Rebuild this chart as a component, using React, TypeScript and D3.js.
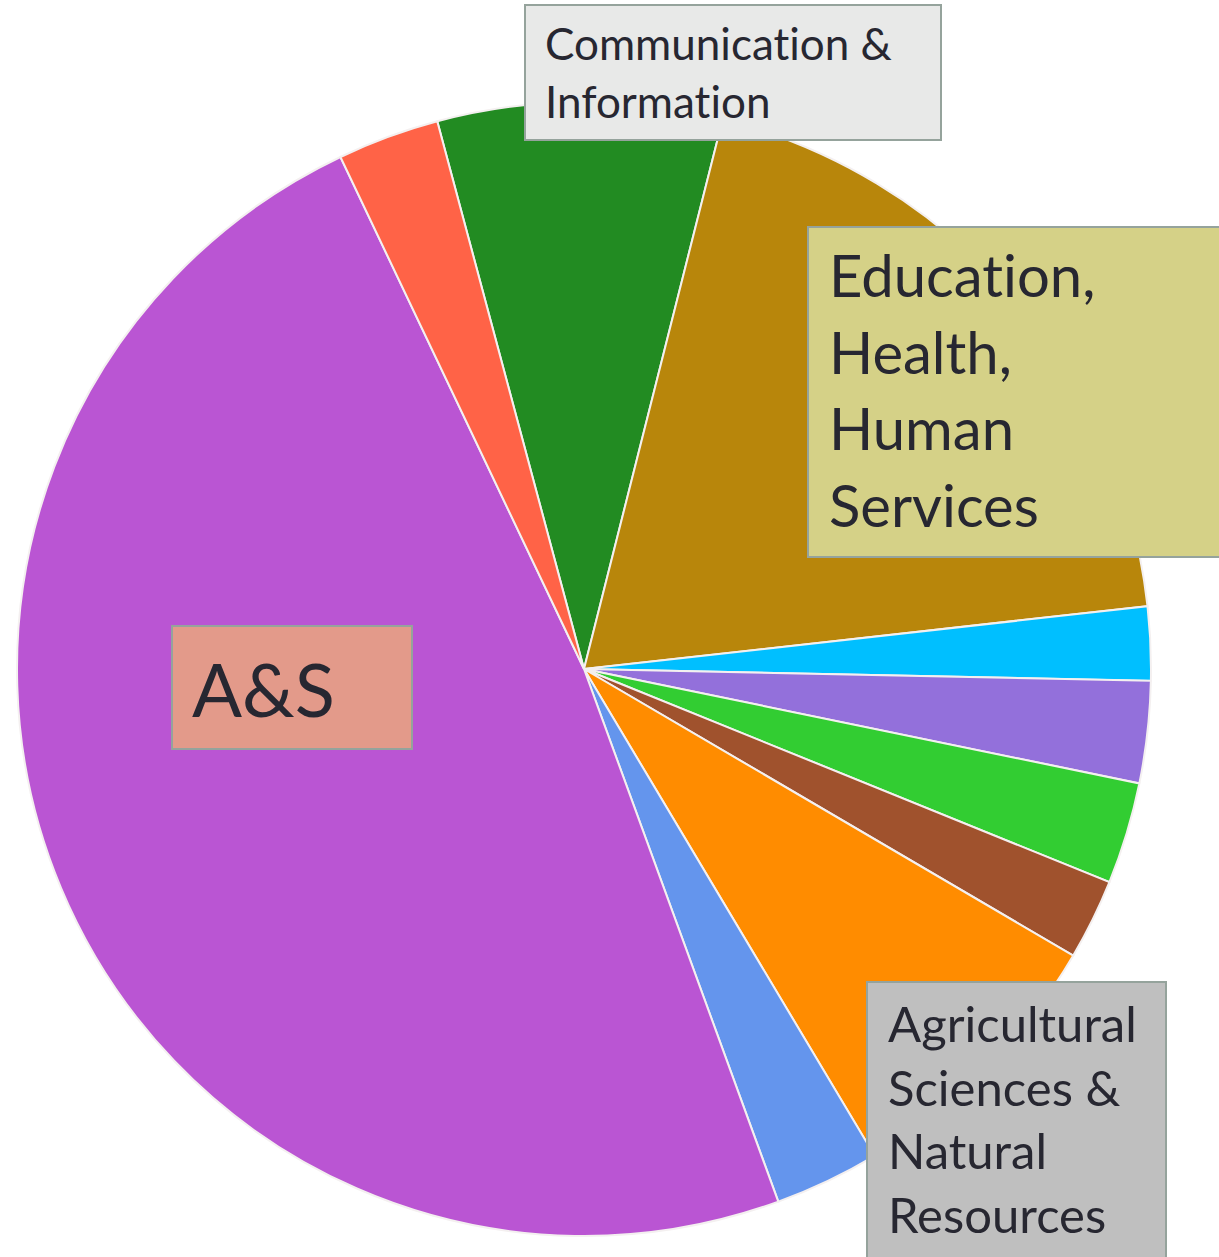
import React, { useEffect, useRef } from "react";
import * as d3 from "d3";

// slice order, clockwise starting just left of 12 o'clock
const colleges = [
  "Communication & Information",
  "Education, Health, Human Services",
  "Slice C",
  "Slice D",
  "Slice E",
  "Slice F",
  "Agricultural Sciences & Natural Resources",
  "Slice H",
  "A&S",
  "Slice J",
];
const shares = [8.1, 19.3, 2.1, 2.9, 2.9, 2.3, 8.0, 3.0, 48.5, 2.9];
const sliceColors = [
  "#228b22",
  "#b8860b",
  "#00bfff",
  "#9370db",
  "#32cd32",
  "#a0522d",
  "#ff8c00",
  "#6495ed",
  "#ba55d3",
  "#ff6347",
];

// callout boxes laid over the pie
const callouts = [
  { lines: ["Communication &", "Information"], fill: "#e8e9e8", box: [525, 5, 416, 135], tx: 545, ty: 60, size: 44, lead: 58 },
  { lines: ["Education,", "Health,", "Human", "Services"], fill: "#d5d187", box: [808, 227, 430, 330], tx: 829, ty: 297, size: 58, lead: 76.5 },
  { lines: ["A&S"], fill: "#e39a8a", box: [172, 626, 240, 123], tx: 192, ty: 717, size: 74, lead: 0 },
  { lines: ["Agricultural", "Sciences &", "Natural", "Resources"], fill: "#bfbfbf", box: [867, 982, 299, 290], tx: 888, ty: 1042, size: 49, lead: 63.7 },
];

export default function App() {
  const svgRef = useRef<SVGSVGElement>(null);
  const width = 1219;
  const height = 1257;

  useEffect(() => {
    const svg = d3.select(svgRef.current);
    svg.selectAll("*").remove();

    const cx = 584;
    const cy = 669;
    const radius = 567;
    const start = (-15 * Math.PI) / 180;

    const pie = d3
      .pie<number>()
      .sort(null)
      .value((d) => d)
      .startAngle(start)
      .endAngle(start + 2 * Math.PI);

    const arc = d3.arc<d3.PieArcDatum<number>>().innerRadius(0).outerRadius(radius);

    const g = svg.append("g").attr("transform", `translate(${cx},${cy})`);

    g.selectAll("path")
      .data(pie(shares))
      .join("path")
      .attr("d", arc)
      .attr("fill", (_, i) => sliceColors[i])
      .attr("stroke", "#f4f0f0")
      .attr("stroke-width", 2)
      .append("title")
      .text((d, i) => `${colleges[i]}: ${d.data}%`);

    const notes = svg.append("g");
    callouts.forEach((c) => {
      notes
        .append("rect")
        .attr("x", c.box[0])
        .attr("y", c.box[1])
        .attr("width", c.box[2])
        .attr("height", c.box[3])
        .attr("fill", c.fill)
        .attr("stroke", "#95a39c")
        .attr("stroke-width", 2);
      const t = notes
        .append("text")
        .attr("font-family", "Lato, 'Open Sans', sans-serif")
        .attr("font-size", c.size)
        .style("font-variant-ligatures", "none")
        .attr("fill", "#272731");
      c.lines.forEach((line, i) => {
        t.append("tspan").attr("x", c.tx).attr("y", c.ty + i * c.lead).text(line);
      });
    });
  }, []);

  return (
    <div style={{ position: "absolute", left: 0, top: 0 }}>
      <svg ref={svgRef} width={width} height={height} style={{ display: "block" }} />
    </div>
  );
}
